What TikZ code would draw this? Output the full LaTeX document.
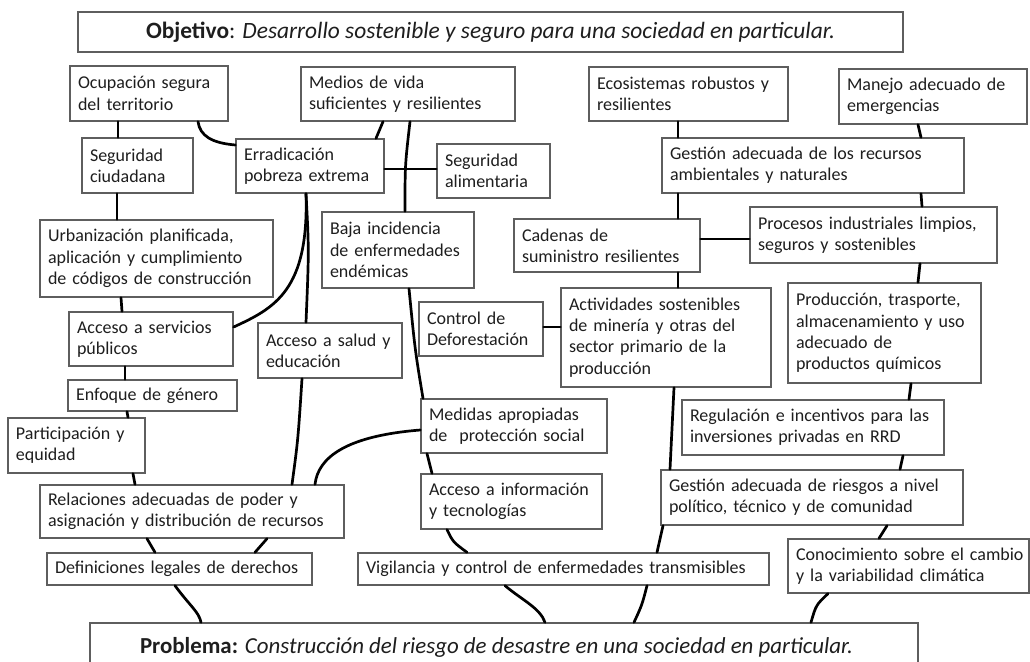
\documentclass[tikz,border=0pt]{standalone}
\usepackage{fontspec}
\setmainfont{Carlito}
\definecolor{boxgray}{HTML}{5E5E5E}
\definecolor{txtgray}{HTML}{1E1E1E}
\newcommand\bx[6]{%
 \pgfmathsetmacro\bxw{#4-#2}\pgfmathsetmacro\bxh{#5-#3}\pgfmathsetmacro\bxt{#4-#2-16}%
 \node[box, minimum width=\bxw pt, minimum height=\bxh pt, text width=\bxt pt] (#1) at ({(#2+#4)/2},{(#3+#5)/2}) {#6};}
\begin{document}
\begin{tikzpicture}[x=1pt,y=-1pt,
 box/.style={draw=boxgray, line width=1.3pt, fill=white, rectangle, inner xsep=8pt, inner ysep=0pt, align=left, font=\fontsize{18}{21.3}\selectfont, text=txtgray},
 conn/.style={line width=2.7pt, line cap=round, draw=black}]
\useasboundingbox (0,0) rectangle (1030,661);
\clip (0,0) rectangle (1030,661);
\fill[white] (0,0) rectangle (1030,661);

% title boxes
\node[box, align=center, minimum width=825pt, minimum height=40pt, font=\fontsize{23.4}{26}\selectfont] (obj) at (490.5,32) {\textbf{Objetivo}: \textit{Desarrollo sostenible y seguro para una sociedad en particular.}};
\node[box, align=center, minimum width=828pt, minimum height=48pt, font=\fontsize{22.9}{26}\selectfont] (prob) at (504,647) {\textbf{Problema:} \textit{Construcción del riesgo de desastre en una sociedad en particular.}\hspace*{15pt}};

% boxes
\bx{ocup}{70}{66}{228}{121}{Ocupación segura\\del territorio}
\bx{medios}{301}{67}{515}{121}{Medios de vida\\suficientes y resilientes}
\bx{ecos}{589}{67}{788}{121}{Ecosistemas robustos y\\resilientes}
\bx{manejo}{839}{69}{1027}{124}{Manejo adecuado de\\emergencias}
\bx{segc}{82}{138}{193}{193}{Seguridad\\ciudadana}
\bx{errad}{236}{139}{384}{193}{Erradicación\\pobreza extrema}
\bx{segal}{437}{144}{550}{198}{Seguridad\\alimentaria}
\bx{gestrec}{662}{138}{964}{193}{Gestión adecuada de los recursos\\ambientales y naturales}
\bx{urb}{40}{220}{273}{297}{Urbanización planificada,\\aplicación y cumplimiento\\de códigos de construcción}
\bx{baja}{322}{212}{474}{288}{Baja incidencia\\de enfermedades\\endémicas}
\bx{cad}{514}{219}{700}{272}{Cadenas de\\suministro resilientes}
\bx{proc}{750}{207}{997}{263}{Procesos industriales limpios,\\seguros y sostenibles}
\bx{serv}{69}{312}{233}{366}{Acceso a servicios\\públicos}
\bx{salud}{258}{323}{402}{378}{Acceso a salud y\\educación}
\bx{defo}{419}{302}{543}{356}{Control de\\Deforestación}
\bx{activ}{561}{288}{771}{387}{Actividades sostenibles\\de minería y otras del\\sector primario de la\\producción}
\bx{prod}{788}{283}{981}{383}{Producción, trasporte,\\almacenamiento y uso\\adecuado de\\productos químicos}
\bx{genero}{68}{380}{237}{411}{Enfoque de género}
\bx{partic}{8}{418}{145}{473}{Participación y\\equidad}
\bx{medidas}{421}{399}{607}{453}{Medidas apropiadas\\de\ \ protección social}
\bx{regul}{682}{400}{944}{455}{Regulación e incentivos para las\\inversiones privadas en RRD}
\bx{info}{421}{474}{602}{529}{Acceso a información\\y tecnologías}
\bx{gestrie}{661}{470}{963}{525}{Gestión adecuada de riesgos a nivel\\político, técnico y de comunidad}
\bx{relac}{40}{485}{344}{538}{Relaciones adecuadas de poder y\\asignación y distribución de recursos}
\bx{conoc}{788}{539}{1029}{593}{\mbox{Conocimiento sobre el cambio}\\y la variabilidad climática}
\bx{defin}{47}{553}{312}{585}{Definiciones legales de derechos}
\bx{vigil}{358}{553}{769}{585}{Vigilancia y control de enfermedades transmisibles}

% left chain
\draw[conn] (ocup.south -| 118,0) -- (segc.north -| 118,0);
\draw[conn] (segc.south -| 117,0) -- (urb.north -| 117,0);
\draw[conn] (urb.south -| 121,0) -- (serv.north -| 122,0);
\draw[conn] (serv.south -| 125,0) -- (genero.north -| 125,0);
\draw[conn] (genero.south -| 127,0) -- (partic.north -| 128,0);
\draw[conn] (partic.south -| 133,0) -- (relac.north -| 135,0);
\draw[conn] (relac.south -| 147,0) -- (defin.north -| 155,0);
\draw[conn] (defin.south -| 175,0) .. controls (190,606) and (199,612) .. (prob.north -| 201,0);
% upper middle
\draw[conn] (ocup.south -| 198,0) .. controls (200,136) and (212,143) .. (errad.west |- 0,145);
\draw[conn] (medios.south -| 383,0) .. controls (380,130) .. (errad.north -| 376,0);
\draw[conn] (medios.south -| 410,0) .. controls (405,165) .. (baja.north -| 405,0);
\draw[conn] (errad.east |- 0,169) -- (segal.west |- 0,169);
\draw[conn] (errad.south -| 306,0) .. controls (309,250) .. (salud.north -| 306,0);
\draw[conn] (errad.south -| 306,0) .. controls (309,290) and (275,308) .. (serv.east |- 0,327);
\draw[conn] (salud.south -| 302,0) .. controls (298,440) .. (relac.north -| 292,0);
\draw[conn] (baja.south -| 409,0) .. controls (415,350) .. (medidas.north -| 423,0);
\draw[conn] (medidas.south -| 427,0) -- (info.north -| 432,0);
\draw[conn] (info.south -| 447,0) .. controls (453,542) .. (vigil.north -| 467,0);
\draw[conn] (vigil.south -| 505,0) .. controls (522,600) and (540,608) .. (prob.north -| 545,0);
\draw[conn] (medidas.west |- 0,430) .. controls (345,436) and (318,458) .. (relac.north -| 315,0);
\draw[conn] (relac.south -| 267,0) -- (defin.north -| 255,0);
% right chain A
\draw[conn] (ecos.south -| 678,0) -- (gestrec.north -| 678,0);
\draw[conn] (gestrec.south -| 678,0) -- (cad.north -| 678,0);
\draw[conn] (cad.south -| 678,0) -- (activ.north -| 678,0);
\draw[conn] (activ.south -| 674,0) -- (gestrie.north -| 670,0);
\draw[conn] (gestrie.south -| 663,0) -- (vigil.north -| 657,0);
\draw[conn] (vigil.south -| 647,0) .. controls (642,605) .. (prob.north -| 634,0);
% right chain B
\draw[conn] (manejo.south -| 918,0) -- (gestrec.north -| 921,0);
\draw[conn] (gestrec.south -| 921,0) -- (proc.north -| 922,0);
\draw[conn] (proc.south -| 920,0) -- (prod.north -| 918,0);
\draw[conn] (prod.south -| 911,0) -- (regul.north -| 909,0);
\draw[conn] (regul.south -| 903,0) -- (gestrie.north -| 900,0);
\draw[conn] (gestrie.south -| 887,0) -- (conoc.north -| 879,0);
\draw[conn] (conoc.south -| 828,0) .. controls (816,605) .. (prob.north -| 811,0);
% horizontals
\draw[conn] (cad.east |- 0,239) -- (proc.west |- 0,239);
\draw[conn] (defo.east |- 0,327) -- (activ.west |- 0,327);
\end{tikzpicture}
\end{document}
